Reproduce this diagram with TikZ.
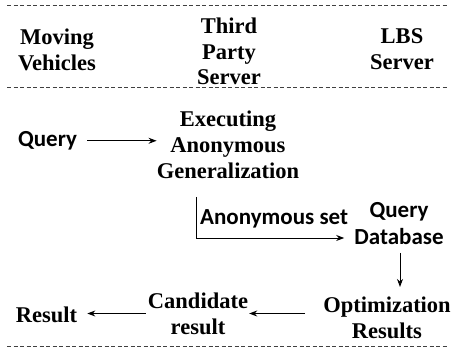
\documentclass[tikz,border=0pt]{standalone}
\usepackage{fontspec}
\setmainfont{Liberation Serif}
\newfontfamily\calfont{Carlito}
\usetikzlibrary{arrows.meta}
\tikzset{
  serifbox/.style={inner sep=0pt, align=center, font=\fontsize{22.5}{25.8}\selectfont\bfseries},
  sansbox/.style={inner sep=0pt, align=center, font=\calfont\fontsize{23}{27}\selectfont\bfseries},
  sep/.style={line width=0.8pt, draw=black!75, dash pattern=on 4pt off 2.5pt},
  flow/.style={line width=0.9pt, -{Stealth[length=8pt,width=6pt]}}
}
\begin{document}
\begin{tikzpicture}[x=1pt,y=-1pt]
\useasboundingbox (0,0) rectangle (451,352);
% separators
\draw[sep] (7,5) -- (448,5);
\draw[sep] (7,87) -- (448,87);
\draw[sep] (7,346) -- (448,346);
% headers
\node[serifbox] (mv) at (57,50) {Moving\\Vehicles};
\node[serifbox] (tp) at (229,51.5) {Third\\Party\\Server};
\node[serifbox] (lbs) at (402,49) {LBS\\Server};
% body
\node[sansbox, anchor=base] (q) at (47.5,147) {Query};
\node[serifbox] (exec) at (228,145) {Executing\\Anonymous\\Generalization};
\node[sansbox] (qdb) at (399,223.5) {Query\\Database};
\node[sansbox, anchor=base west] (aset) at (200,225) {Anonymous set};
\node[serifbox] (opt) at (387,318) {Optimization\\Results};
\node[serifbox] (cand) at (198,313.5) {Candidate\\result};
\node[serifbox, anchor=base] (res) at (46.5,323) {Result};
\coordinate (turn) at (196,197);
% connectors
\draw[flow] ([xshift=10pt,yshift=0.5pt]q.east) -- ([yshift=0.5pt]q.east -| exec.west);
\draw[flow] (turn) |- ([xshift=-10pt,yshift=-14.5pt]qdb.west);
\draw[flow] ([xshift=1pt,yshift=-8pt]qdb.south) -- ([xshift=1pt,yshift=10pt]qdb.south |- opt.north);
\draw[flow] ([xshift=-18pt]opt.west |- cand.east) -- ([xshift=1pt]cand.east);
\draw[flow] ([xshift=-2pt]cand.west) -- ([xshift=10pt]res.east |- cand.west);
\end{tikzpicture}
\end{document}
